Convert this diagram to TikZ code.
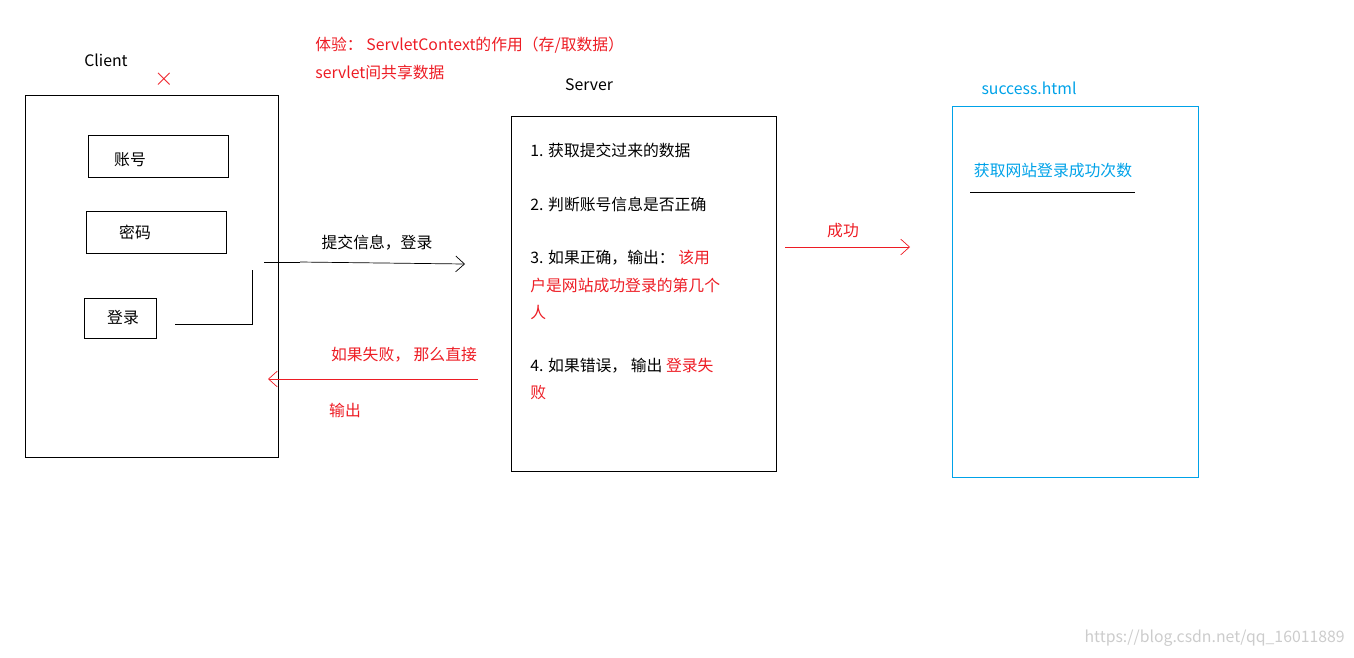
\documentclass[tikz,border=0pt]{standalone}
\usepackage{fontspec}
\setmainfont{Noto Sans CJK SC}
\usetikzlibrary{positioning,arrows.meta}
\definecolor{myred}{RGB}{237,28,36}
\definecolor{myblue}{RGB}{0,162,232}
\tikzset{
  txt/.style={inner sep=0pt,font=\fontsize{9}{10}\selectfont},
  box/.style={draw,thin},
  arr/.style={-{Straight Barb[length=5pt,width=9pt]}},
}
\begin{document}
\begin{tikzpicture}[x=0.02cm,y=-0.02cm]
  \useasboundingbox (0,0) rectangle (1354,657);

  % titles
  \node [txt,anchor=west,text=myred] (t1) at (315,45) {体验： ServletContext的作用（存/取数据）};
  \node [txt,anchor=west,text=myred] (t2) at (315,72) {servlet间共享数据};

  % client
  \node [txt] (client) at (106,60) {Client};
  \node [txt,text=myred,font=\Large] (xmark) at (164,79) {$\times$};
  \draw [box] (25,95) rectangle (278,457);
  \draw [box] (88,135) rectangle (228,177);
  \draw [box] (86,211) rectangle (226,253);
  \draw [box] (84,298) rectangle (156,338);
  \node [txt] (acct) at (130,160) {账号};
  \node [txt] (pwd) at (135,232) {密码};
  \node [txt] (login) at (123,318) {登录};

  \coordinate (c1) at (175,324);
  \coordinate (c2) at (252,324);
  \coordinate (c3) at (252,270);
  \coordinate (c4) at (264,262);
  \coordinate (c5) at (300,262);
  \coordinate (c6) at (465,264);
  \draw (c1) -- (c2) -- (c3);
  \draw (c4) -- (c5);
  \draw [arr] (c5) -- (c6);
  \node [txt] (submit) at (377,243) {提交信息，登录};

  % server
  \node [txt] (server) at (589,85) {Server};
  \draw [box] (511,116) rectangle (776,471);
  \node [txt,anchor=west] (s1) at (530,150) {1. 获取提交过来的数据};
  \node [txt,anchor=west] (s2) at (530,204) {2. 判断账号信息是否正确};
  \node [txt,anchor=west] (s3) at (530,258) {3. 如果正确，输出： \textcolor{myred}{该用}};
  \node [txt,anchor=west,text=myred] (s3b) at (530,285) {户是网站成功登录的第几个};
  \node [txt,anchor=west,text=myred] (s3c) at (530,312) {人};
  \node [txt,anchor=west] (s4) at (530,366) {4. 如果错误， 输出 \textcolor{myred}{登录失}};
  \node [txt,anchor=west,text=myred] (s4b) at (530,393) {败};

  % fail arrow
  \coordinate (f1) at (478,379);
  \coordinate (f2) at (268,379);
  \draw [arr,myred] (f1) -- (f2);
  \node [txt,text=myred] (fail) at (404,355) {如果失败， 那么直接};
  \node [txt,text=myred] (fail2) at (345,410) {输出};

  % success arrow
  \coordinate (o1) at (785,247);
  \coordinate (o2) at (910,247);
  \draw [arr,myred] (o1) -- (o2);
  \node [txt,text=myred] (ok) at (843,231) {成功};

  % success page
  \node [txt,text=myblue] (page) at (1029,88) {success.html};
  \draw [box,myblue] (952,106) rectangle (1198,477);
  \node [txt,text=myblue] (count) at (1053,171) {获取网站登录成功次数};
  \coordinate (u1) at (970,192);
  \coordinate (u2) at (1135,192);
  \draw (u1) -- (u2);

  \node [txt,anchor=east,text=gray!40] (mark) at (1345,638) {https://blog.csdn.net/qq\_16011889};
\end{tikzpicture}
\end{document}
